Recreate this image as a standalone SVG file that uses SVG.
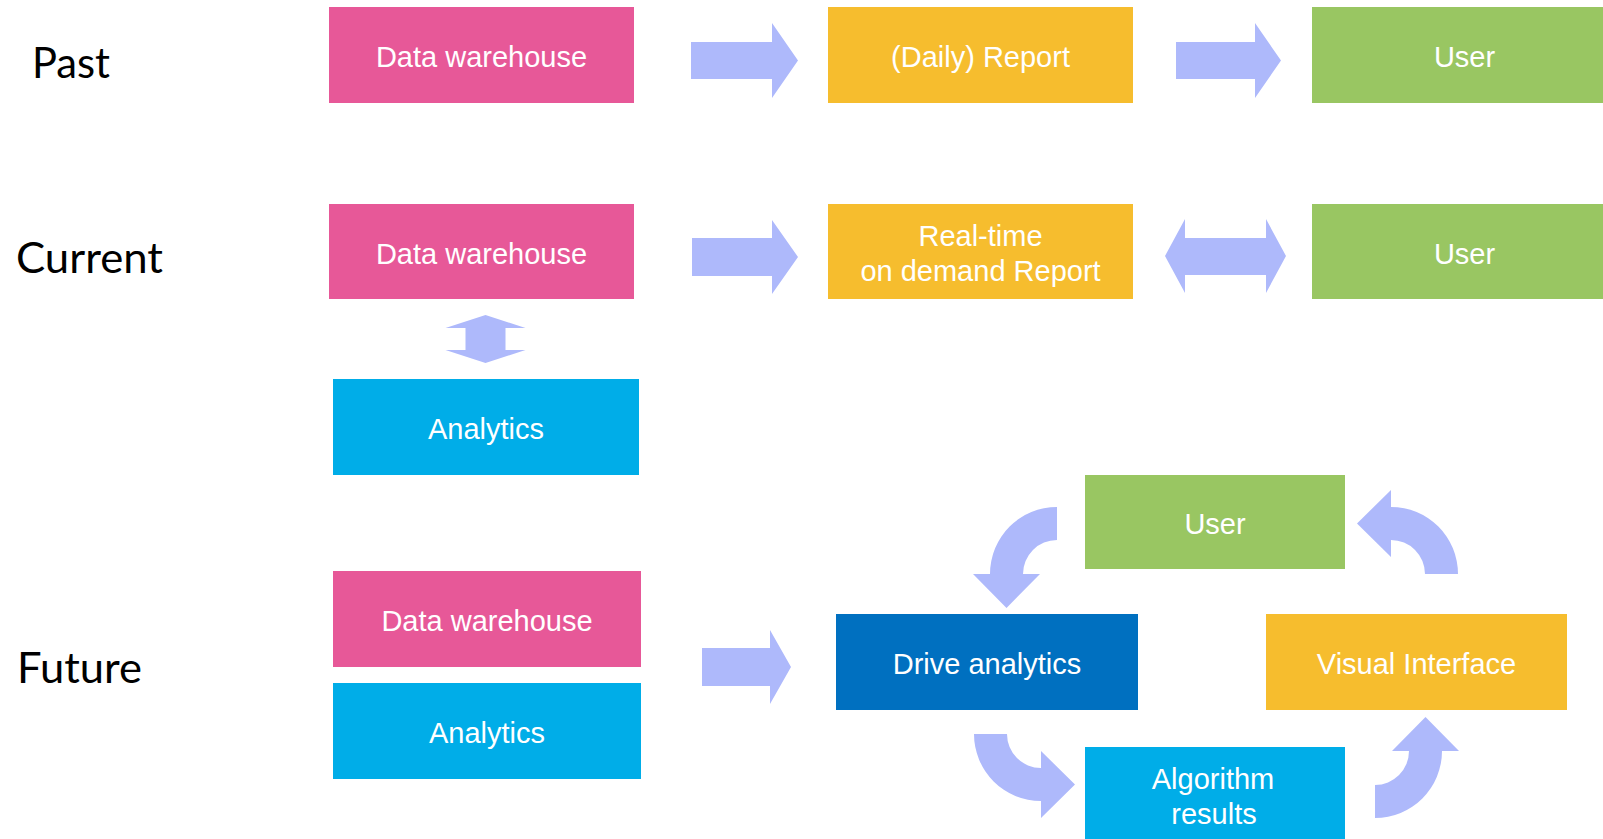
<svg xmlns="http://www.w3.org/2000/svg" width="1603" height="839" viewBox="0 0 1603 839">
  <defs>
    <style>
      .box-text { font-family: "Liberation Sans", Arial, sans-serif; font-size: 29px; fill: #ffffff; text-anchor: middle; }
      .era { font-family: Lato, "Open Sans", sans-serif; font-size: 43px; fill: #000000; }
      .pink { fill: #E75898; }
      .orange { fill: #F6BD2E; }
      .green { fill: #99C662; }
      .cyan { fill: #00ADE8; }
      .navy { fill: #0070C0; }
      .flow { fill: #AEB9FB; }
    </style>
    <!-- quarter-turn arrow, centred on the arc centre; tail on the left, head pointing right -->
    <path id="bend" d="M -67,0 A 67 67 0 0 0 0,67 L 0,84 L 34,50.5 L 0,17 L 0,34 A 34 34 0 0 1 -34,0 Z"/>
  </defs>

  <rect width="1603" height="839" fill="#ffffff"/>

  <!-- era labels -->
  <text class="era" x="32" y="78" textLength="78" lengthAdjust="spacingAndGlyphs">Past</text>
  <text class="era" x="16" y="273" textLength="147" lengthAdjust="spacingAndGlyphs">Current</text>
  <text class="era" x="17" y="683" textLength="125" lengthAdjust="spacingAndGlyphs">Future</text>

  <!-- Past row -->
  <g id="past-warehouse">
    <rect class="pink" x="329" y="7" width="305" height="96"/>
    <text class="box-text" x="481.5" y="66.5">Data warehouse</text>
  </g>
  <g id="past-report">
    <rect class="orange" x="828" y="7" width="305" height="96"/>
    <text class="box-text" x="980.5" y="66.5">(Daily) Report</text>
  </g>
  <g id="past-user">
    <rect class="green" x="1312" y="7" width="305" height="96"/>
    <text class="box-text" x="1464.5" y="66.5">User</text>
  </g>

  <!-- Current row -->
  <g id="current-warehouse">
    <rect class="pink" x="329" y="204" width="305" height="95"/>
    <text class="box-text" x="481.5" y="263.5">Data warehouse</text>
  </g>
  <g id="current-report">
    <rect class="orange" x="828" y="204" width="305" height="95"/>
    <text class="box-text" x="980.5" y="246">Real-time</text>
    <text class="box-text" x="980.5" y="280.5">on demand Report</text>
  </g>
  <g id="current-user">
    <rect class="green" x="1312" y="204" width="305" height="95"/>
    <text class="box-text" x="1464.5" y="263.5">User</text>
  </g>
  <g id="current-analytics">
    <rect class="cyan" x="333" y="379" width="306" height="96"/>
    <text class="box-text" x="486" y="438.5">Analytics</text>
  </g>

  <!-- Future row -->
  <g id="future-warehouse">
    <rect class="pink" x="333" y="571" width="308" height="96"/>
    <text class="box-text" x="487" y="630.5">Data warehouse</text>
  </g>
  <g id="future-analytics">
    <rect class="cyan" x="333" y="683" width="308" height="96"/>
    <text class="box-text" x="487" y="742.5">Analytics</text>
  </g>
  <g id="drive-analytics">
    <rect class="navy" x="836" y="614" width="302" height="96"/>
    <text class="box-text" x="987" y="673.5">Drive analytics</text>
  </g>
  <g id="future-user">
    <rect class="green" x="1085" y="475" width="260" height="94"/>
    <text class="box-text" x="1215" y="533.5">User</text>
  </g>
  <g id="visual-interface">
    <rect class="orange" x="1266" y="614" width="301" height="96"/>
    <text class="box-text" x="1416.5" y="673.5">Visual Interface</text>
  </g>
  <g id="algorithm-results">
    <rect class="cyan" x="1085" y="747" width="260" height="92"/>
    <text class="box-text" x="1213" y="789">Algorithm</text>
    <text class="box-text" x="1214" y="824">results</text>
  </g>

  <!-- connectors -->
  <g id="connectors" class="flow">
    <polygon points="691,42 772,42 772,23 798,60.5 772,98 772,79 691,79"/>
    <polygon points="1176,42 1255,42 1255,23 1281,60.5 1255,98 1255,79 1176,79"/>
    <polygon points="692,238 772,238 772,220 798,257 772,294 772,276 692,276"/>
    <polygon points="1165,256 1185,219 1185,238 1266,238 1266,219 1286,256 1266,293 1266,275 1185,275 1185,293"/>
    <polygon points="485.5,315 525.5,328 505.5,328 505.5,350 525.5,350 485.5,363 445.5,350 465.5,350 465.5,328 445.5,328"/>
    <polygon points="702,648 770,648 770,630 791,667 770,704 770,686 702,686"/>
    <use href="#bend" transform="translate(1057,574) rotate(90)"/>
    <use href="#bend" transform="translate(1041,734)"/>
    <use href="#bend" transform="translate(1375,751) rotate(-90)"/>
    <use href="#bend" transform="translate(1391,574) rotate(180)"/>
  </g>
</svg>
